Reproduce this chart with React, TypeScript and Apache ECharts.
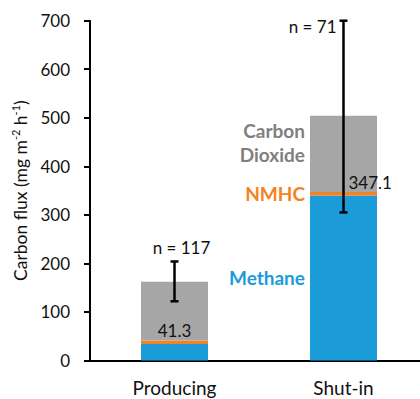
import React, { useEffect, useRef } from "react";
import * as echarts from "echarts";

const categories = ["Producing", "Shut-in"];
const methane = [34, 340];
const nmhc = [7.3, 7.1];
const carbonDioxide = [121, 157];
const errLow = [122, 305];
const errHigh = [204, 700];
const sampleLabels = ["n = 117", "n = 71"];
const sumLabels = ["41.3", "347.1"];
const yTicks = { min: 0, max: 700, interval: 100 };

const FONT = "Lato";
const BLUE = "#1b9bd8";
const ORANGE = "#f58220";
const GRAY = "#a6a6a6";
const GRAY_TEXT = "#7f7f7f";
const INK = "#111";

export default function App() {
  const ref = useRef<HTMLDivElement>(null);
  useEffect(() => {
    if (!ref.current) return;
    const chart = echarts.init(ref.current, null, { renderer: "svg" });
    const lastIdx = categories.length - 1;
    const seriesLabel = (text: string, color: string, offset: number[]) => ({
      show: true,
      position: "left",
      distance: 5,
      formatter: text,
      color,
      fontFamily: FONT,
      fontWeight: "bold",
      fontSize: 19,
      lineHeight: 24,
      align: "right",
      offset,
    });
    const mkData = (arr: number[], label: any) =>
      arr.map((v, i) => (i === lastIdx ? { value: v, label } : { value: v }));

    chart.setOption({
      animation: false,
      grid: { left: 90, top: 20.7, width: 338, height: 339.8 },
      xAxis: {
        type: "category",
        data: categories,
        axisLine: { show: true, lineStyle: { color: "#000", width: 2 } },
        axisTick: { show: false },
        axisLabel: { color: INK, fontFamily: FONT, fontSize: 19, margin: 17 },
      },
      yAxis: {
        type: "value",
        ...yTicks,
        splitLine: { show: false },
        axisLine: { show: true, lineStyle: { color: "#000", width: 2 } },
        axisTick: { show: true, length: 6, lineStyle: { color: "#000", width: 2 } },
        axisLabel: { color: INK, fontFamily: FONT, fontSize: 17, margin: 20 },
        name: "{a|Carbon flux (mg m}{s|-2}{a| h}{s|-1}{a|)}",
        nameLocation: "middle",
        nameGap: 60,
        nameTextStyle: {
          rich: {
            a: { fontFamily: FONT, fontSize: 17.5, color: INK },
            s: { fontFamily: FONT, fontSize: 11, color: INK, padding: [0, 0, 9, 0] },
          },
        },
      },
      series: [
        {
          name: "Methane",
          type: "bar",
          stack: "c",
          barWidth: 67,
          itemStyle: { color: BLUE },
          data: mkData(methane, seriesLabel("Methane", BLUE, [0, 0])),
        },
        {
          name: "NMHC",
          type: "bar",
          stack: "c",
          itemStyle: { color: ORANGE },
          data: mkData(nmhc, seriesLabel("NMHC", ORANGE, [0, 0])),
        },
        {
          name: "Carbon Dioxide",
          type: "bar",
          stack: "c",
          itemStyle: { color: GRAY },
          data: mkData(carbonDioxide, seriesLabel("Carbon\nDioxide", GRAY_TEXT, [0, -11])),
        },
        {
          type: "custom",
          z: 10,
          data: categories.map((_, i) => [i, errLow[i], errHigh[i], methane[i] + nmhc[i]]),
          renderItem: (params: any, api: any) => {
            const i = api.value(0);
            const lo = api.coord([i, api.value(1)]);
            const hi = api.coord([i, api.value(2)]);
            const sum = api.coord([i, api.value(3)]);
            const x = lo[0];
            const cap = 4;
            const ls = { stroke: "#000", lineWidth: 2.5 };
            const isLast = i === lastIdx;
            return {
              type: "group",
              children: [
                { type: "line", shape: { x1: x, y1: lo[1], x2: x, y2: hi[1] }, style: ls },
                { type: "line", shape: { x1: x - cap, y1: lo[1], x2: x + cap, y2: lo[1] }, style: ls },
                { type: "line", shape: { x1: x - cap, y1: hi[1], x2: x + cap, y2: hi[1] }, style: ls },
                {
                  type: "text",
                  x: isLast ? x - 7 : x + 7,
                  y: isLast ? hi[1] + 6 : hi[1] - 14,
                  style: {
                    text: sampleLabels[i],
                    fill: INK,
                    fontFamily: FONT,
                    fontSize: 17,
                    align: isLast ? "right" : "center",
                    verticalAlign: "middle",
                  },
                },
                {
                  type: "text",
                  x: isLast ? x + 5 : x,
                  y: sum[1] - 10,
                  style: {
                    text: sumLabels[i],
                    fill: INK,
                    fontFamily: FONT,
                    fontSize: 17,
                    align: isLast ? "left" : "center",
                    verticalAlign: "middle",
                  },
                },
              ],
            };
          },
        },
      ],
    });
    return () => chart.dispose();
  }, []);
  return (
    <div
      style={{ position: "fixed", left: 0, top: 0, width: 420, height: 399, overflow: "hidden", background: "#fff" }}
    >
      <div ref={ref} style={{ width: 440, height: 399 }} />
    </div>
  );
}
